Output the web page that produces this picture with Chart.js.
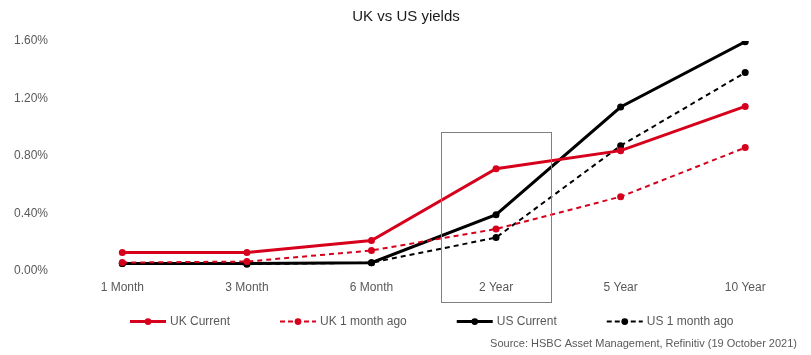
<!DOCTYPE html>
<html>
<head>
<meta charset="utf-8">
<script src="https://cdn.jsdelivr.net/npm/chart.js@4"></script>
<style>
html,body{margin:0;padding:0;background:#fff;}
#wrap{width:811px;height:355px;position:relative;}
</style>
</head>
<body>
<div id="wrap"><canvas id="c" width="811" height="355"></canvas></div>
<script>
const categories = ['1 Month', '3 Month', '6 Month', '2 Year', '5 Year', '10 Year'];
const ukCurrent = [0.126, 0.126, 0.21, 0.71, 0.836, 1.144];
const uk1MonthAgo = [0.056, 0.063, 0.14, 0.29, 0.515, 0.857];
const usCurrent = [0.05, 0.05, 0.055, 0.39, 1.14, 1.595];
const us1MonthAgo = [0.05, 0.045, 0.055, 0.23, 0.87, 1.38];
const yTicks = [0, 0.4, 0.8, 1.2, 1.6];
const highlightCategory = '2 Year';
const highlightTopValue = 0.965;
const sourceText = 'Source: HSBC Asset Management, Refinitiv (19 October 2021)';

const RED = '#d6001c';
const BLACK = '#000000';
const FONT = 'Liberation Sans, Arial, sans-serif';

const highlightBox = {
  id: 'highlightBox',
  afterDatasetsDraw(chart) {
    const x = chart.scales.x, y = chart.scales.y;
    const idx = categories.indexOf(highlightCategory);
    const cx = x.getPixelForValue(idx);
    const half = (x.getPixelForValue(1) - x.getPixelForValue(0)) * 0.44;
    const top = y.getPixelForValue(highlightTopValue);
    const bottom = chart.chartArea.bottom + 32;
    const ctx = chart.ctx;
    ctx.save();
    ctx.strokeStyle = '#808080';
    ctx.lineWidth = 1;
    ctx.strokeRect(Math.round(cx - half) + 0.5, Math.round(top) + 0.5, Math.round(half * 2), Math.round(bottom - top));
    ctx.restore();
  }
};

const customLegend = {
  id: 'customLegend',
  afterDraw(chart) {
    const ctx = chart.ctx;
    ctx.save();
    ctx.font = '12px ' + FONT;
    const iconW = 36, iconGap = 4, itemGap = 50;
    const items = chart.data.datasets.map(d => ({ d, w: iconW + iconGap + ctx.measureText(d.label).width }));
    const total = items.reduce((s, it) => s + it.w, 0) + itemGap * (items.length - 1);
    const ca = chart.chartArea;
    let x = Math.round((ca.left + ca.right) / 2 - total / 2 - 2);
    const y = chart.chartArea.bottom + 51;
    items.forEach(it => {
      const d = it.d;
      ctx.strokeStyle = d.borderColor;
      ctx.lineWidth = d.borderWidth;
      ctx.setLineDash(d.borderDash && d.borderDash.length ? [5, 3] : []);
      ctx.beginPath(); ctx.moveTo(x, y); ctx.lineTo(x + iconW, y); ctx.stroke();
      ctx.setLineDash([]);
      ctx.fillStyle = d.borderColor;
      ctx.beginPath(); ctx.arc(x + iconW / 2, y, 3.4, 0, Math.PI * 2); ctx.fill();
      ctx.fillStyle = '#595959';
      ctx.textBaseline = 'middle';
      ctx.textAlign = 'left';
      ctx.fillText(d.label, x + iconW + iconGap, y);
      x += it.w + itemGap;
    });
    ctx.font = '11px ' + FONT;
    ctx.textAlign = 'right';
    ctx.fillStyle = '#595959';
    ctx.fillText(sourceText, chart.width - 14, chart.chartArea.bottom + 73);
    ctx.restore();
  }
};

function ds(label, data, color, dashed) {
  return {
    label, data,
    borderColor: color, backgroundColor: color,
    borderWidth: dashed ? 2 : 3,
    borderDash: dashed ? [5, 4] : [],
    pointRadius: 3.5, pointHoverRadius: 3.5,
    pointBackgroundColor: color, pointBorderColor: color, pointBorderWidth: 0,
    pointStyle: 'circle',
    tension: 0
  };
}

new Chart(document.getElementById('c'), {
  type: 'line',
  data: {
    labels: categories,
    datasets: [
      ds('UK Current', ukCurrent, RED, false),
      ds('UK 1 month ago', uk1MonthAgo, RED, true),
      ds('US Current', usCurrent, BLACK, false),
      ds('US 1 month ago', us1MonthAgo, BLACK, true)
    ]
  },
  options: {
    responsive: false,
    animation: false,
    devicePixelRatio: 1,
    layout: { padding: { left: 2, right: 1, top: 4, bottom: 50 } },
    plugins: {
      title: {
        display: true, text: 'UK vs US yields', color: '#1a1a1a',
        font: { family: FONT, size: 15, weight: 'normal' },
        padding: { top: 4, bottom: 15 }
      },
      legend: { display: false },
      tooltip: { enabled: false }
    },
    scales: {
      x: {
        offset: true,
        grid: { display: false, drawTicks: false },
        border: { display: false },
        ticks: { color: '#595959', font: { family: FONT, size: 12 }, padding: 10 }
      },
      y: {
        min: 0, max: 1.6,
        afterBuildTicks(axis) { axis.ticks = yTicks.map(v => ({ value: v })); },
        grid: { display: false, drawTicks: false },
        border: { display: false },
        ticks: {
          color: '#595959', padding: 12,
          font: { family: FONT, size: 12 },
          callback: v => Number(v).toFixed(2) + '%'
        }
      }
    }
  },
  plugins: [highlightBox, customLegend]
});
</script>
</body>
</html>
